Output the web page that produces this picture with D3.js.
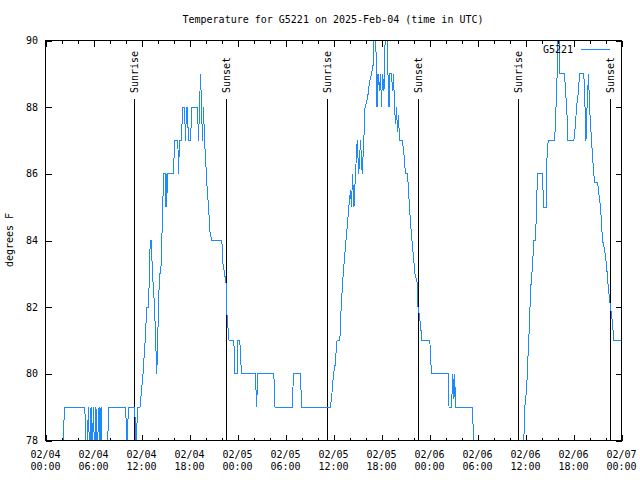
<!DOCTYPE html>
<html><head><meta charset="utf-8">
<script src="https://cdn.jsdelivr.net/npm/d3@7"></script>
<style>
body{margin:0;background:#fff}
svg text{font-family:"DejaVu Sans Mono","Liberation Mono",monospace;font-size:10px;fill:#000}
</style>
</head><body>
<svg id="c" width="640" height="480"></svg>
<script>
const chartTitle = "Temperature for G5221 on 2025-Feb-04 (time in UTC)";
const seriesName = "G5221";
const yLabel = "degrees F";
// hours since 2025-02-04 00:00 UTC
const hours = [0,2.13,2.38,4.91,5.13,5.38,5.5,5.69,5.81,6.0,6.13,6.31,6.44,6.69,6.81,6.94,7.06,7.71,7.91,10.0,10.19,10.38,11.16,11.31,11.5,11.81,12.19,12.46,12.66,12.88,13.09,13.21,13.38,13.63,13.91,14.13,14.25,14.41,14.66,14.75,15.0,15.06,15.13,15.16,15.23,16.0,16.13,16.54,16.63,16.75,17.0,17.13,17.38,17.5,17.63,17.71,17.88,18.13,18.29,19.0,19.13,19.25,19.38,19.5,19.63,19.75,19.88,20.0,20.16,20.38,20.56,20.79,22.04,22.19,22.38,22.56,22.69,22.94,23.54,23.69,23.94,24.04,24.29,24.38,24.5,26.25,26.38,26.54,28.54,28.69,30.84,31.0,31.88,32.0,35.63,35.84,36.0,36.19,36.44,36.79,36.96,37.21,37.38,37.56,37.75,37.91,38.13,38.25,38.38,38.56,38.75,38.96,39.16,39.38,39.59,39.79,39.94,40.25,40.5,40.75,40.94,41.06,41.25,41.44,41.56,41.75,41.88,42.0,42.13,42.31,42.5,42.69,42.81,42.94,43.06,43.25,43.38,43.5,43.63,43.75,43.88,44.0,44.13,44.25,44.59,44.75,45.0,45.25,45.44,45.63,45.81,46.0,46.19,46.44,46.56,46.75,46.96,47.06,48.04,48.19,48.25,50.34,50.44,50.75,50.91,51.06,51.15,51.25,53.34,53.54,53.63,59.69,59.79,59.91,60.13,60.31,60.5,60.63,60.88,61.04,61.25,61.38,61.5,62.09,62.19,62.29,62.59,62.69,62.84,63.63,63.75,63.88,64.0,64.09,64.19,64.29,64.88,65.06,65.19,65.29,66.04,66.25,66.38,66.63,66.75,67.29,67.44,67.56,67.69,67.88,68.0,68.13,68.38,68.63,69.0,69.38,69.63,69.88,70.13,70.38,70.63,70.88,71.04,72.0];
const temps = [77.5,77.5,79,79,77.5,79,77.5,79,77.5,79,77.5,79,77.5,79,77.5,79,77.5,77.5,79,79,78,79,79,77.5,79,79,80,81,82,82,84,84,83,82,80,82,83,83,85,86,86,85,86,85,86,86,87,87,86,87,87,88,88,87,88,88,87,87,88,88,87,88,89,88,87,88,87,86.5,85.75,85,84.25,84,84,83.3,83,82.75,81.75,81,81,80,80,81,81,80.5,80,80,79,80,80,79,79,80,80,79,79,79.5,80,80.25,81,81,82,83,83.5,84,84.5,85,85.5,85,86,85,86,87,86,87,86,87,88,88.25,88.75,89,89.25,90.5,90.5,88,89,88.5,89,88,89,88.5,90.5,90.5,89,88,89,89,88.5,89,88,87.5,88,87.25,87.75,87,87,86.75,86,86,85.25,84.5,84,83.5,83,82.75,82,81.75,81.25,81,81,80.25,80,80,79,79,80,79.25,80,79,79,78,77.5,77.5,78,79,79.5,80.5,81.5,82.5,83.25,84,84,85,86,86,85.5,85,85,86.5,87,87,87.5,88.5,89.25,90.5,90.5,89,89,88.3,87.75,87,87,87.5,88,88.5,89,89,88,87,88,89,88,87.5,86.5,85.75,85.75,85,84,83.75,83.25,82.5,82,81.5,81,81];
const sunLabels = ["Sunrise","Sunset","Sunrise","Sunset","Sunrise","Sunset"];
const sunHours = [11.13,22.66,35.19,46.66,59.16,70.63];
const xTickHours = [0,6,12,18,24,30,36,42,48,54,60,66,72];
const xTickDates = ["02/04","02/04","02/04","02/04","02/05","02/05","02/05","02/05","02/06","02/06","02/06","02/06","02/07"];
const xTickTimes = ["00:00","06:00","12:00","18:00","00:00","06:00","12:00","18:00","00:00","06:00","12:00","18:00","00:00"];
const xMinorHours = [2,4,8,10,14,16,20,22,26,28,32,34,38,40,44,46,50,52,56,58,62,64,68,70];
const yTicks = [78,80,82,84,86,88,90];

const lineColor = "#1e88ff";
const svg = d3.select("#c");
const L = 45.5, R = 621.5, T = 40.5, B = 440.5;
const x = d3.scaleLinear().domain([0,72]).range([L,R]);
const y = d3.scaleLinear().domain([78,90]).range([B,T]);

svg.append("defs").append("clipPath").attr("id","plot")
  .append("rect").attr("x",L).attr("y",T).attr("width",R-L).attr("height",B-T);

// title
svg.append("text").attr("x",333).attr("y",23).attr("text-anchor","middle").text(chartTitle);

// y label
svg.append("text").attr("transform","translate(13,240) rotate(-90)").attr("text-anchor","middle").text(yLabel);

// axes ticks
const tickStyle = g => { g.select(".domain").remove(); g.selectAll("line").attr("stroke","#000").attr("shape-rendering","crispEdges"); };
svg.append("g").attr("transform",`translate(0,${B})`)
  .call(d3.axisBottom(x).tickValues(xTickHours).tickSize(-6).tickFormat(""))
  .call(tickStyle);
svg.append("g").attr("transform",`translate(0,${T})`)
  .call(d3.axisTop(x).tickValues(xTickHours).tickSize(-6).tickFormat(""))
  .call(tickStyle);
svg.append("g").attr("transform",`translate(0,${B})`)
  .call(d3.axisBottom(x).tickValues(xMinorHours).tickSize(-3).tickFormat(""))
  .call(tickStyle);
svg.append("g").attr("transform",`translate(0,${T})`)
  .call(d3.axisTop(x).tickValues(xMinorHours).tickSize(-3).tickFormat(""))
  .call(tickStyle);
svg.append("g").attr("transform",`translate(${L},0)`)
  .call(d3.axisLeft(y).tickValues(yTicks).tickSize(-6).tickFormat(""))
  .call(tickStyle);
svg.append("g").attr("transform",`translate(${R},0)`)
  .call(d3.axisRight(y).tickValues(yTicks).tickSize(-6).tickFormat(""))
  .call(tickStyle);

// x tick labels
const xl = svg.append("g");
xTickHours.forEach((h,i)=>{
  const t = xl.append("text").attr("x",x(h)).attr("text-anchor","middle");
  t.append("tspan").attr("x",x(h)).attr("y",458).text(xTickDates[i]);
  t.append("tspan").attr("x",x(h)).attr("y",470).text(xTickTimes[i]);
});
// y tick labels
yTicks.forEach(v=>{
  svg.append("text").attr("x",38).attr("y",y(v)).attr("dy","0.35em").attr("text-anchor","end").text(v);
});

// sunrise/sunset
sunHours.forEach((h,i)=>{
  const px = Math.round(x(h)-0.5)+0.5;
  svg.append("line").attr("x1",px).attr("x2",px).attr("y1",99).attr("y2",B)
    .attr("stroke","#000").attr("shape-rendering","crispEdges");
  svg.append("text").attr("transform",`translate(${px},93) rotate(-90)`)
    .attr("dy","0.35em").attr("text-anchor","start").text(sunLabels[i]);
});

// data line
const pts = hours.map((h,i)=>[h,temps[i]]);
svg.append("path").datum(pts).attr("clip-path","url(#plot)")
  .attr("fill","none").attr("stroke",lineColor).attr("stroke-width",1)
  .attr("shape-rendering","crispEdges")
  .attr("d", d3.line().x(d=>x(d[0])).y(d=>y(d[1])));

// frame
svg.append("rect").attr("x",L).attr("y",T).attr("width",R-L).attr("height",B-T)
  .attr("fill","none").attr("stroke","#000").attr("shape-rendering","crispEdges");

// legend
svg.append("text").attr("x",573).attr("y",53).attr("text-anchor","end").text(seriesName);
svg.append("line").attr("x1",581).attr("x2",610).attr("y1",49.5).attr("y2",49.5)
  .attr("stroke",lineColor).attr("shape-rendering","crispEdges");
</script>
</body></html>
